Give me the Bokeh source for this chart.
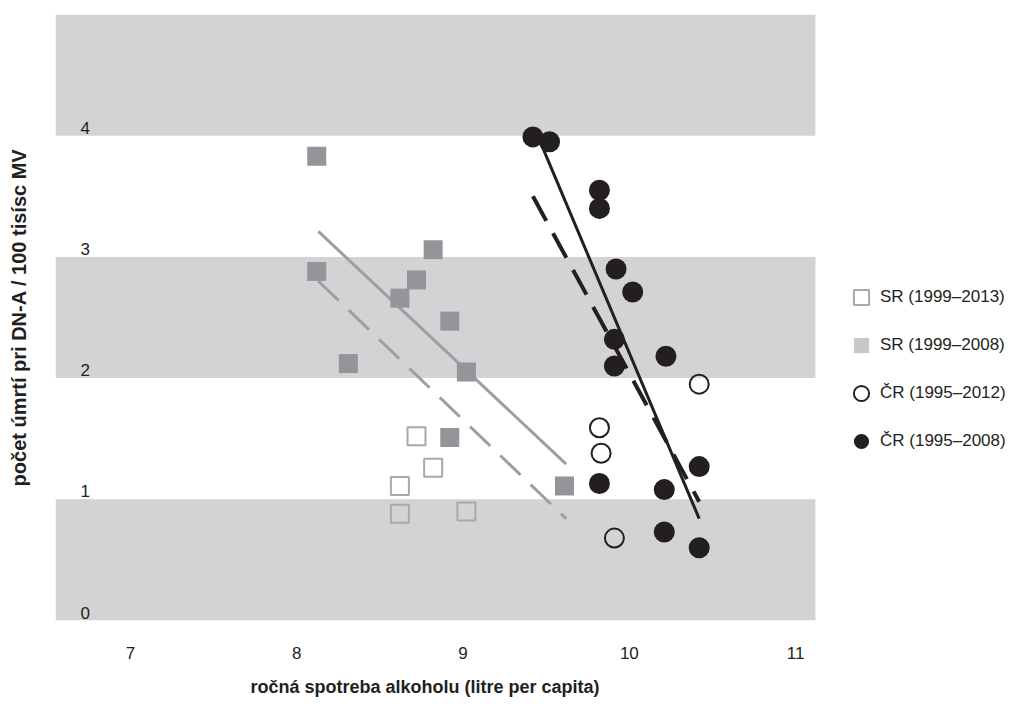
from bokeh.plotting import figure
from bokeh.models import ColumnDataSource, FixedTicker, Range1d, Legend, LegendItem, Title
from bokeh.core.properties import value
from bokeh.embed import file_html
from bokeh.resources import INLINE

# ---- data ----
x_ticks = [7, 8, 9, 10, 11]
y_ticks = [0, 1, 2, 3, 4]
y_tick_labels = ["0", "1", "2", "3", "4"]
band_bottom = [0, 2, 4]
band_top = [1, 3, 5]

# SR (1999-2008) filled squares
sr08_x = [8.12, 8.12, 8.82, 8.72, 8.62, 8.92, 8.31, 9.02, 8.92, 9.61]
sr08_y = [3.83, 2.88, 3.06, 2.81, 2.66, 2.47, 2.12, 2.05, 1.51, 1.11]
# SR (1999-2013) extra years, open squares
sr13_x = [8.72, 8.82, 8.62, 8.62, 9.02]
sr13_y = [1.52, 1.26, 1.11, 0.88, 0.90]
# CR (1995-2008) filled circles
cr08_x = [9.42, 9.52, 9.82, 9.82, 9.92, 10.02, 9.91, 10.22, 9.91, 10.42, 9.82, 10.21, 10.21, 10.42]
cr08_y = [3.99, 3.95, 3.55, 3.40, 2.90, 2.71, 2.32, 2.18, 2.10, 1.27, 1.13, 1.08, 0.73, 0.60]
# CR (1995-2012) extra years, open circles
cr12_x = [10.42, 9.82, 9.83, 9.91]
cr12_y = [1.95, 1.59, 1.38, 0.68]

# trend lines
sr08_fit_x = [8.13, 9.62]
sr08_fit_y = [3.21, 1.29]
sr13_fit_x = [8.13, 9.62]
sr13_fit_y = [2.80, 0.84]
cr08_fit_x = [9.43, 10.42]
cr08_fit_y = [4.06, 0.84]
cr12_fit_x = [9.42, 10.42]
cr12_fit_y = [3.50, 0.98]

legend_labels = ["SR (1999\u20132013)", "SR (1999\u20132008)", "\u010cR (1995\u20132012)", "\u010cR (1995\u20132008)"]

x_title = "ro\u010dn\u00e1 spotreba alkoholu (litre per capita)"
y_title = "po\u010det \u00famrt\u00ed pri DN-A / 100 tis\u00edsc MV"

# ---- layout constants ----
x_start, x_end = 6.549, 12.268
band_right = 11.119
FONT = "Liberation Sans"
INK = "#231f20"
BAND = "#d1d3d4"
GREY_SQ = "#939598"
GREY_LINE = "#9d9fa2"

p = figure(width=1006, height=703, output_backend="svg", toolbar_location=None,
           x_range=Range1d(x_start, x_end), y_range=Range1d(0, 5.0),
           min_border_left=55, min_border_right=0, min_border_top=14, min_border_bottom=83)
p.outline_line_color = None
p.grid.visible = False
p.background_fill_color = "white"
p.border_fill_color = "white"

# bands
p.quad(left=x_start, right=band_right, bottom=band_bottom, top=band_top,
       fill_color=BAND, line_color=None)

# y tick labels inside the plot, just above each band boundary
p.text(x=[x_start] * len(y_ticks), y=y_ticks, text=y_tick_labels, x_offset=25, y_offset=-8,
       text_align="left", text_baseline="middle", text_font=value(FONT),
       text_font_size="17px", text_color=INK)

# trend lines
p.line(sr08_fit_x, sr08_fit_y, line_color=GREY_LINE, line_width=3)
p.line(sr13_fit_x, sr13_fit_y, line_color=GREY_LINE, line_width=3, line_dash="28 14")
p.line(cr08_fit_x, cr08_fit_y, line_color=INK, line_width=3)
p.line(cr12_fit_x, cr12_fit_y, line_color=INK, line_width=4, line_dash="28 14")

# markers
p.scatter(sr13_x, sr13_y, marker="square", size=18, fill_color=None,
          line_color="#a7a9ac", line_width=2)
p.scatter(sr08_x, sr08_y, marker="square", size=19, fill_color=GREY_SQ, line_color=None)
p.scatter(cr12_x, cr12_y, marker="circle", size=19, fill_color=None,
          line_color=INK, line_width=2)
p.scatter(cr08_x, cr08_y, marker="circle", size=21, fill_color=INK, line_color=None)

# legend: off-screen (NaN) renderers carry the legend glyph styles
nan = float("nan")
def dummy():
    return ColumnDataSource(dict(x=[nan], y=[nan]))
r1 = p.scatter("x", "y", source=dummy(), marker="square",
               fill_color=None, line_color="#a7a9ac", line_width=2)
r2 = p.scatter("x", "y", source=dummy(), marker="square",
               fill_color="#c7c8ca", line_color=None)
r3 = p.scatter("x", "y", source=dummy(), marker="circle",
               fill_color=None, line_color=INK, line_width=2)
r4 = p.scatter("x", "y", source=dummy(), marker="circle",
               fill_color=INK, line_color=None)
legend = Legend(items=[LegendItem(label=legend_labels[i], renderers=[r], index=0)
                       for i, r in enumerate([r1, r2, r3, r4])],
                location=(787, 160), glyph_width=38, glyph_height=38, label_standoff=0,
                spacing=10, padding=0, margin=0, border_line_color=None,
                background_fill_alpha=0, label_text_font=FONT, label_text_font_size="17px",
                label_text_color=INK, label_height=38)
p.add_layout(legend, "center")

# axes
p.xaxis.ticker = FixedTicker(ticks=x_ticks)
p.xaxis.axis_line_color = None
p.xaxis.major_tick_line_color = None
p.xaxis.minor_tick_line_color = None
p.xaxis.major_tick_out = 0
p.xaxis.major_tick_in = 0
p.xaxis.major_label_standoff = 26
p.xaxis.major_label_text_font = FONT
p.xaxis.major_label_text_font_size = "17px"
p.xaxis.major_label_text_color = INK

# spacer, then the x axis title centred under the banded plot area
p.add_layout(Title(text=" ", text_font_size="8px", standoff=0), "below")
p.add_layout(Title(text=x_title, align="left", offset=195, standoff=4,
                   text_font=FONT, text_font_size="18px", text_font_style="bold",
                   text_color=INK), "below")

p.yaxis.ticker = FixedTicker(ticks=[])
p.yaxis.axis_line_color = None
p.yaxis.major_tick_line_color = None
p.yaxis.minor_tick_line_color = None
p.yaxis.major_tick_out = 0
p.yaxis.major_tick_in = 0
p.yaxis.major_label_standoff = 0
p.yaxis.axis_label = y_title
p.yaxis.axis_label_text_font = FONT
p.yaxis.axis_label_text_font_style = "bold"
p.yaxis.axis_label_text_font_size = "20px"
p.yaxis.axis_label_text_color = INK
p.yaxis.axis_label_standoff = 26

open("out.html", "w").write(file_html(p, INLINE))
